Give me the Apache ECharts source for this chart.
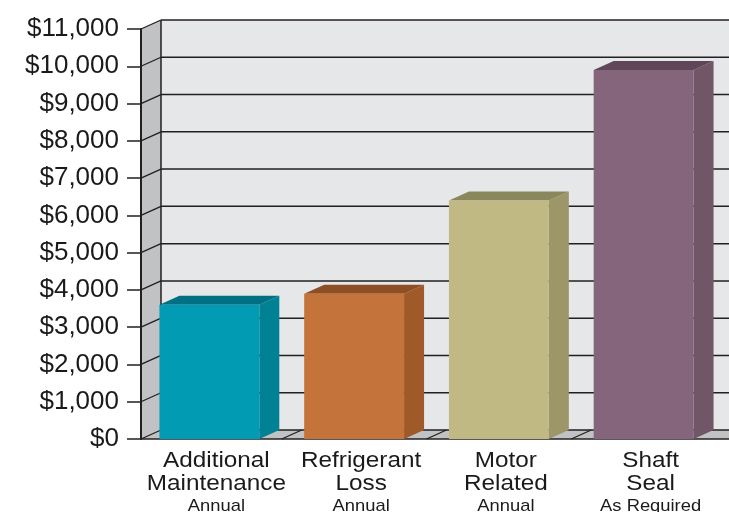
<!DOCTYPE html>
<html>
<head>
<meta charset="utf-8">
<script src="https://cdn.jsdelivr.net/npm/echarts@6/dist/echarts.min.js"></script>
<style>
  html, body { margin: 0; padding: 0; background: #ffffff; }
  #chart { width: 729px; height: 512px; }
</style>
</head>
<body>
<div id="chart"></div>
<script>
// Cost categories, their service frequency and the annual cost of each
const categoryLines = [
  ['Additional', 'Maintenance'],
  ['Refrigerant', 'Loss'],
  ['Motor', 'Related'],
  ['Shaft', 'Seal']
];
const frequency = ['Annual', 'Annual', 'Annual', 'As Required'];
const costs = [3600, 3900, 6400, 9900];

// Value axis ticks
const yTicks = [0, 1000, 2000, 3000, 4000, 5000, 6000, 7000, 8000, 9000, 10000, 11000];
const yTickLabels = ['$0', '$1,000', '$2,000', '$3,000', '$4,000', '$5,000',
  '$6,000', '$7,000', '$8,000', '$9,000', '$10,000', '$11,000'];

// Bar face colours: front, side, top
const barColors = [
  { front: '#019cb3', side: '#008294', top: '#007082' },
  { front: '#c4743a', side: '#a05a2a', top: '#8e4f24' },
  { front: '#c1b983', side: '#9c9668', top: '#8b875c' },
  { front: '#85657b', side: '#715668', top: '#5f4659' }
];

// Depth of the 3D box (pixels to the right and up)
const DX = 20, DY = -9;
const INK = '#231f20';
const FONT = '"Liberation Sans", Arial, Helvetica, sans-serif';

const chart = echarts.init(document.getElementById('chart'), null, { renderer: 'canvas' });

function frontLeft(api) {
  const band = api.size([1, 0])[0];
  return api.coord([0, 0])[0] - band / 2 + 4;
}

// Walls, floor and grid lines of the 3D frame
function renderFrame(params, api) {
  const band = api.size([1, 0])[0];
  const L = frontLeft(api);
  const W = api.getWidth();
  const y0 = api.coord([0, 0])[1];
  const yTop = api.coord([0, yTicks[yTicks.length - 1]])[1];
  const children = [];

  // back wall
  children.push({ type: 'rect', shape: { x: L + DX, y: yTop + DY, width: W - L - DX, height: y0 - yTop },
    style: { fill: '#e6e7e9' } });
  // left side wall
  children.push({ type: 'polygon', shape: { points: [[L, yTop], [L + DX, yTop + DY], [L + DX, y0 + DY], [L, y0]] },
    style: { fill: '#c1c2c4' } });
  // floor
  children.push({ type: 'polygon', shape: { points: [[L, y0], [L + DX, y0 + DY], [W, y0 + DY], [W, y0]] },
    style: { fill: '#c1c2c4' } });

  // grid lines on back wall and their diagonals on the side wall
  yTicks.forEach(function (v) {
    const y = api.coord([0, v])[1];
    children.push({ type: 'line', shape: { x1: L + DX, y1: y + DY, x2: W, y2: y + DY },
      style: { stroke: INK, lineWidth: 1.5 } });
    children.push({ type: 'line', shape: { x1: L, y1: y, x2: L + DX, y2: y + DY },
      style: { stroke: INK, lineWidth: 1.3 } });
  });

  // back wall left edge
  children.push({ type: 'line', shape: { x1: L + DX, y1: yTop + DY, x2: L + DX, y2: y0 + DY },
    style: { stroke: INK, lineWidth: 1.5 } });

  // floor dividers between categories
  for (let k = 1; k < categoryLines.length; k++) {
    const xb = api.coord([k, 0])[0] - band / 2;
    children.push({ type: 'line', shape: { x1: xb, y1: y0, x2: xb + DX, y2: y0 + DY },
      style: { stroke: INK, lineWidth: 1.3 } });
  }
  // floor front edge
  children.push({ type: 'line', shape: { x1: L, y1: y0, x2: W, y2: y0 },
    style: { stroke: INK, lineWidth: 1.5 } });

  return { type: 'group', children: children };
}

// 3D box bars
function renderBar(params, api) {
  const idx = api.value(0);
  const base = api.coord([idx, 0]);
  const top = api.coord([idx, api.value(1)]);
  const bw = api.size([1, 0])[0] * 0.69;
  const x0 = base[0] - bw / 2;
  const x1 = x0 + bw;
  const c = barColors[params.dataIndex];
  return {
    type: 'group',
    children: [
      { type: 'polygon', shape: { points: [[x1, top[1]], [x1 + DX, top[1] + DY], [x1 + DX, base[1] + DY], [x1, base[1]]] },
        style: { fill: c.side } },
      { type: 'polygon', shape: { points: [[x0, top[1]], [x0 + DX, top[1] + DY], [x1 + DX, top[1] + DY], [x1, top[1]]] },
        style: { fill: c.top } },
      { type: 'rect', shape: { x: x0, y: top[1], width: bw, height: base[1] - top[1] },
        style: { fill: c.front } }
    ]
  };
}

// Category labels under each bar (two-line name plus frequency)
function renderLabel(params, api) {
  const i = params.dataIndex;
  const p = api.coord([i, 0]);
  const cx = p[0] + 7;
  const lines = categoryLines[i];
  const mk = function (text, y, size) {
    return { type: 'text', x: cx, y: y, scaleX: 1.08,
      style: { text: text, fontSize: size, fontFamily: FONT, fill: '#1a1a1a',
        align: 'center', verticalAlign: 'middle' } };
  };
  return {
    type: 'group',
    children: [
      mk(lines[0], p[1] + 21.5, 22.5),
      mk(lines[1], p[1] + 45, 22.5),
      mk(frequency[i], p[1] + 67, 17)
    ]
  };
}

const option = {
  animation: false,
  backgroundColor: '#ffffff',
  grid: { left: 137, right: 13, top: 29, bottom: 73, containLabel: false },
  xAxis: {
    type: 'category',
    data: categoryLines.map(function (l) { return l.join(' '); }),
    boundaryGap: true,
    axisLine: { show: false },
    axisTick: { show: false },
    axisLabel: { show: false },
    splitLine: { show: false }
  },
  yAxis: {
    type: 'value',
    min: 0,
    max: 11000,
    interval: 1000,
    offset: -4,
    z: 10,
    axisLine: { show: true, lineStyle: { color: INK, width: 2 } },
    axisTick: { show: true, length: 14, lineStyle: { color: INK, width: 1.5 } },
    axisLabel: {
      margin: 22,
      fontSize: 26,
      fontFamily: FONT,
      color: '#1a1a1a',
      formatter: function (v) {
        const k = yTicks.indexOf(v);
        return k >= 0 ? yTickLabels[k] : '';
      }
    },
    splitLine: { show: false }
  },
  series: [
    {
      type: 'custom',
      z: 1,
      clip: false,
      silent: true,
      renderItem: renderFrame,
      data: [[0, 0]]
    },
    {
      type: 'custom',
      z: 3,
      clip: false,
      renderItem: renderBar,
      encode: { x: 0, y: 1 },
      data: costs.map(function (v, i) { return [i, v]; })
    },
    {
      type: 'custom',
      z: 3,
      clip: false,
      silent: true,
      renderItem: renderLabel,
      data: costs.map(function (v, i) { return [i, 0]; })
    }
  ]
};

chart.setOption(option);
</script>
</body>
</html>
